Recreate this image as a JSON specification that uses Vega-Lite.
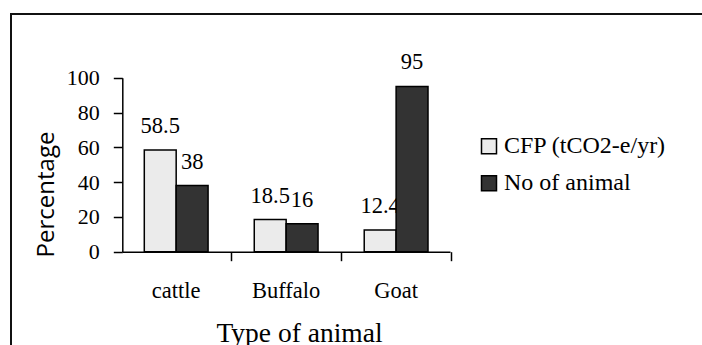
{
  "$schema": "https://vega.github.io/schema/vega-lite/v6.json",
  "autosize": "none",
  "padding": {"left": 11, "top": 14, "right": -1, "bottom": -2},
  "width": 692,
  "height": 333,
  "background": "white",
  "config": {
    "view": {"stroke": "#111111", "strokeWidth": 2},
    "font": "Liberation Serif"
  },
  "data": {
    "values": [
      {"animal": "cattle", "series": "CFP (tCO2-e/yr)", "value": 58.5},
      {"animal": "cattle", "series": "No of animal", "value": 38},
      {"animal": "Buffalo", "series": "CFP (tCO2-e/yr)", "value": 18.5},
      {"animal": "Buffalo", "series": "No of animal", "value": 16},
      {"animal": "Goat", "series": "CFP (tCO2-e/yr)", "value": 12.4},
      {"animal": "Goat", "series": "No of animal", "value": 95}
    ]
  },
  "encoding": {
    "x": {
      "field": "animal",
      "type": "nominal",
      "sort": ["cattle", "Buffalo", "Goat"],
      "scale": {"range": [111.3, 439], "paddingInner": 0.42, "paddingOuter": 0.2},
      "axis": {
        "orient": "bottom",
        "offset": -95.3,
        "bandPosition": 1.362,
        "tickSize": 9,
        "tickWidth": 1.5,
        "tickColor": "black",
        "domainColor": "black",
        "domainWidth": 1.5,
        "labelAngle": 0,
        "labelFont": "Liberation Serif",
        "labelFontSize": 22.5,
        "labelColor": "black",
        "labelPadding": 19,
        "grid": false,
        "title": "Type of animal",
        "titleFont": "Liberation Serif",
        "titleFontSize": 27.5,
        "titleFontWeight": "normal",
        "titleColor": "black",
        "titleX": 288,
        "titleY": 89.5,
        "titleBaseline": "alphabetic",
        "titleAlign": "center"
      }
    },
    "xOffset": {"field": "series", "type": "nominal", "sort": ["CFP (tCO2-e/yr)", "No of animal"]},
    "y": {
      "field": "value",
      "type": "quantitative",
      "scale": {"domain": [0, 100], "range": [237.7, 63.7], "nice": false, "zero": true},
      "axis": {
        "orient": "left",
        "offset": -111.3,
        "values": [0, 20, 40, 60, 80, 100],
        "tickSize": 9,
        "tickWidth": 1.5,
        "tickColor": "black",
        "domainColor": "black",
        "domainWidth": 1.5,
        "labelFont": "Liberation Serif",
        "labelFontSize": 22,
        "labelColor": "black",
        "labelPadding": 14,
        "grid": false,
        "title": "Percentage",
        "titleFont": "Open Sans",
        "titleFontSize": 24,
        "titleFontWeight": "normal",
        "titleColor": "black",
        "titleAngle": 270,
        "titleX": -69,
        "titleY": 180,
        "titleBaseline": "alphabetic",
        "titleAlign": "center"
      }
    }
  },
  "layer": [
    {
      "mark": {"type": "text", "dy": -17, "baseline": "alphabetic", "fontSize": 22.5, "font": "Liberation Serif", "color": "black"},
      "encoding": {"text": {"field": "value", "type": "nominal"}}
    },
    {
      "mark": {"type": "bar", "stroke": "black", "strokeWidth": 1.5},
      "encoding": {
        "color": {
          "field": "series",
          "type": "nominal",
          "scale": {"domain": ["CFP (tCO2-e/yr)", "No of animal"], "range": ["#ebebeb", "#333333"]},
          "legend": {
            "orient": "none",
            "legendX": 466,
            "legendY": 120.3,
            "title": null,
            "symbolType": "square",
            "symbolSize": 225,
            "symbolStrokeColor": "black",
            "symbolStrokeWidth": 1.5,
            "symbolOpacity": 1,
            "labelFont": "Liberation Serif",
            "labelFontSize": 24,
            "labelColor": "black",
            "labelOffset": 3,
            "rowPadding": 13,
            "labelLimit": 300
          }
        }
      }
    }
  ]
}
